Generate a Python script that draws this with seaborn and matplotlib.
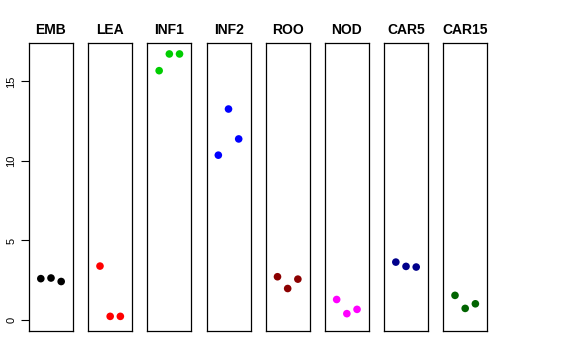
"""Gráfico de pontos por tecido, um painel para cada amostra"""

import matplotlib
matplotlib.use("Agg")
import matplotlib.pyplot as plt
import seaborn as sns
import pandas as pd

# Dados
tecidos = ["EMB", "LEA", "INF1", "INF2", "ROO", "NOD", "CAR5", "CAR15"]
cores = ["#000000", "#FF0000", "#00CD00", "#0000FF",
         "#8B0000", "#FF00FF", "#00008B", "#006400"]
replicas = [1, 2, 3]
valores = {
    "EMB": [2.60, 2.64, 2.42],
    "LEA": [3.39, 0.23, 0.23],
    "INF1": [15.67, 16.72, 16.72],
    "INF2": [10.36, 13.26, 11.38],
    "ROO": [2.72, 1.98, 2.57],
    "NOD": [1.29, 0.40, 0.67],
    "CAR5": [3.64, 3.37, 3.33],
    "CAR15": [1.55, 0.73, 1.02],
}
yticks = [0, 5, 10, 15]

sns.set_style("white")
plt.rcParams["font.family"] = ["Liberation Sans", "DejaVu Sans"]
# texto preto, como no original
plt.rcParams["text.color"] = "black"
plt.rcParams["ytick.color"] = "black"
plt.rcParams["xtick.color"] = "black"
plt.rcParams["axes.labelcolor"] = "black"

fig = plt.figure(figsize=(5.76, 3.6), dpi=100)
W, H = 576, 360

for i, (tecido, cor) in enumerate(zip(tecidos, cores)):
    esquerda = 29 + i * 59.17
    ax = fig.add_axes([esquerda / W, 29 / H, 44 / W, 287.7 / H])
    df = pd.DataFrame({"x": replicas, "y": valores[tecido]})
    sns.scatterplot(data=df, x="x", y="y", color=cor, s=30,
                    edgecolor="none", ax=ax)
    ax.set_xlim(-0.16, 4.16)
    ax.set_ylim(-0.69, 17.39)
    ax.set_xticks([])
    ax.set_xlabel("")
    ax.set_ylabel("")
    for sp in ax.spines.values():
        sp.set_visible(True)
        sp.set_color("black")
        sp.set_linewidth(0.9)
    ax.set_title(tecido, fontsize=10, fontweight="bold", pad=7,
                 color="black")
    if i == 0:
        ax.set_yticks(yticks)
        ax.set_yticklabels([str(t) for t in yticks], rotation=90,
                           va="center", fontsize=8)
        ax.tick_params(axis="y", left=True, length=6, width=0.8, pad=3,
                       colors="black")
    else:
        ax.set_yticks([])

fig.savefig("out.png", dpi=100)
